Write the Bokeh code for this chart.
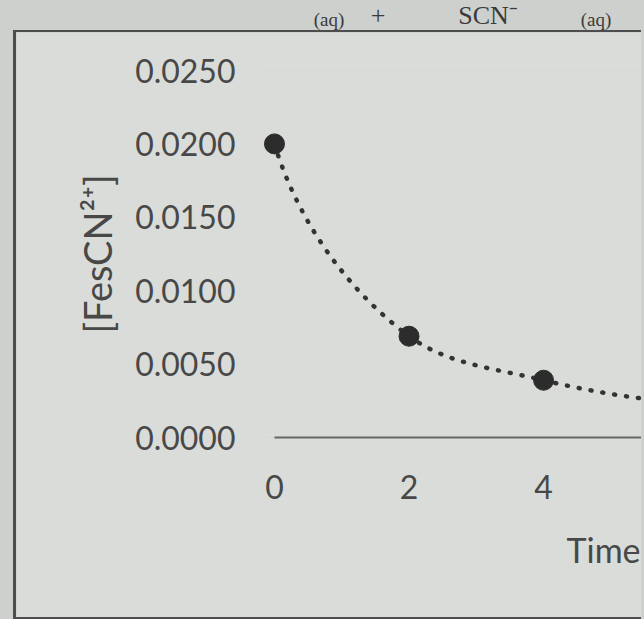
from bokeh.plotting import figure
from bokeh.layouts import column
from bokeh.models import (Range1d, FixedTicker, NumeralTickFormatter, Title, Div,
                          ColumnDataSource)
from bokeh.embed import file_html
from bokeh.resources import INLINE

# ---- data ----
time_vals = [0, 2, 4, 6]
fescn_vals = [0.0200, 0.0069, 0.0039, 0.0024]
y_ticks = [0.0, 0.005, 0.010, 0.015, 0.020, 0.025]
x_ticks = [0, 2, 4, 6]
y_title = "[FesCN²⁺]"
x_title = "Time"
header_parts = ["(aq)", "+", "SCN⁻", "(aq)"]

# ---- geometry ----
PAGE_W = 644
HDR_H = 30                      # strip above the chart box
PW, PH = 628, 589               # canvas of the chart box
FL, FR, FT, FB = 245, 628, 38, 405
X0, X1 = -0.193, 5.50
Y0, Y1 = 0.0, 0.025

TEXT = "#484848"
INK = "#333333"
OUTSIDE = "#cdd0cc"
INSIDE = "#d9dcd8"
EDGE = "#4d4d4d"

# ---- header (cut-off equation above the chart in the photo) ----
hdr_spec = [(329, 10, 19), (378, 3, 26), (488, 3, 26), (596, 10, 19)]
spans = []
for (cx, top, fs), txt in zip(hdr_spec, header_parts):
    spans.append(
        f'<span style="position:absolute;left:{cx}px;top:{top}px;transform:translateX(-50%);'
        f'font-size:{fs}px;line-height:1;white-space:nowrap">{txt}</span>')
hdr = Div(text='<div style="position:relative;width:%dpx;height:%dpx;'
               'font-family:\'Liberation Serif\',serif;color:#3a3a3a">%s</div>'
               % (PAGE_W, HDR_H, "".join(spans)),
          width=PAGE_W, height=HDR_H, margin=(0, 0, 0, 0))

p = figure(width=PW, height=PH, output_backend="svg", toolbar_location=None,
           x_range=Range1d(X0, X1), y_range=Range1d(Y0, Y1),
           min_border_left=FL, min_border_right=PW - FR,
           min_border_top=FT, min_border_bottom=PH - FB,
           margin=(0, 0, 0, 13))
p.styles = {"border-left": f"3px solid {EDGE}", "border-top": f"2px solid {EDGE}",
            "border-bottom": f"2px solid {EDGE}"}
p.background_fill_color = INSIDE
p.border_fill_color = INSIDE
p.outline_line_color = None
p.xgrid.visible = False
p.ygrid.visible = False

KX = (FR - FL) / (X1 - X0)
KY = (FB - FT) / (Y1 - Y0)

# ---- smooth (Excel-like) curve through the data as bezier segments ----
P = [(t * KX, c * KY) for t, c in zip(time_vals, fescn_vals)]
n = len(P)
U, D = [], []
for i in range(n - 1):
    vx, vy = P[i + 1][0] - P[i][0], P[i + 1][1] - P[i][1]
    d = (vx * vx + vy * vy) ** 0.5
    U.append((vx / d, vy / d))
    D.append(d)
T = [None] * n
for i in range(1, n - 1):
    sx, sy = U[i - 1][0] + U[i][0], U[i - 1][1] + U[i][1]
    s = (sx * sx + sy * sy) ** 0.5
    T[i] = (sx / s, sy / s)


def reflect(t, u):
    k = 2 * (t[0] * u[0] + t[1] * u[1])
    return (k * u[0] - t[0], k * u[1] - t[1])


T[0] = reflect(T[1], U[0])
T[n - 1] = reflect(T[n - 2], U[n - 2])
seg = dict(x0=[], y0=[], x1=[], y1=[], cx0=[], cy0=[], cx1=[], cy1=[])
for i in range(n - 1):
    a = D[i] / 3
    seg["x0"].append(time_vals[i]); seg["y0"].append(fescn_vals[i])
    seg["x1"].append(time_vals[i + 1]); seg["y1"].append(fescn_vals[i + 1])
    seg["cx0"].append((P[i][0] + T[i][0] * a) / KX)
    seg["cy0"].append((P[i][1] + T[i][1] * a) / KY)
    seg["cx1"].append((P[i + 1][0] - T[i + 1][0] * a) / KX)
    seg["cy1"].append((P[i + 1][1] - T[i + 1][1] * a) / KY)

p.bezier(x0="x0", y0="y0", x1="x1", y1="y1", cx0="cx0", cy0="cy0", cx1="cx1", cy1="cy1",
         source=ColumnDataSource(seg), line_color=INK, line_width=4.5,
         line_dash="1 11", line_cap="round")
p.scatter(time_vals, fescn_vals, size=20, marker="circle",
          fill_color="#2c2c2c", line_color="#2c2c2c")

# ---- axes ----
xa = p.xaxis[0]
xa.ticker = FixedTicker(ticks=x_ticks)
xa.bounds = (0, 10)
xa.axis_line_color = "#666666"
xa.axis_line_width = 2
xa.major_tick_line_color = None
xa.minor_tick_line_color = None
xa.major_tick_out = 0
xa.major_tick_in = 0
xa.major_label_standoff = 37
xa.major_label_text_font = "Lato"
xa.major_label_text_font_size = "32px"
xa.major_label_text_color = TEXT

ya = p.yaxis[0]
ya.ticker = FixedTicker(ticks=y_ticks)
ya.formatter = NumeralTickFormatter(format="0.0000")
ya.axis_line_color = None
ya.major_tick_line_color = None
ya.minor_tick_line_color = None
ya.major_tick_out = 0
ya.major_tick_in = 0
ya.major_label_standoff = 26
ya.major_label_text_font = "Lato"
ya.major_label_text_font_size = "32px"
ya.major_label_text_color = TEXT
ya.axis_label = y_title
ya.axis_label_text_font = "Lato"
ya.axis_label_text_font_size = "38px"
ya.axis_label_text_font_style = "normal"
ya.axis_label_text_color = TEXT
ya.axis_label_standoff = 12

# x-axis title (the photo cuts it at the right edge; kept whole here)
p.add_layout(Title(text=x_title, align="left", offset=305, standoff=50,
                   text_font="Lato", text_font_size="34px", text_font_style="normal",
                   text_color=TEXT), "below")

layout = column(hdr, p, spacing=0, styles={"background-color": OUTSIDE})
open("out.html", "w").write(file_html(layout, INLINE))
